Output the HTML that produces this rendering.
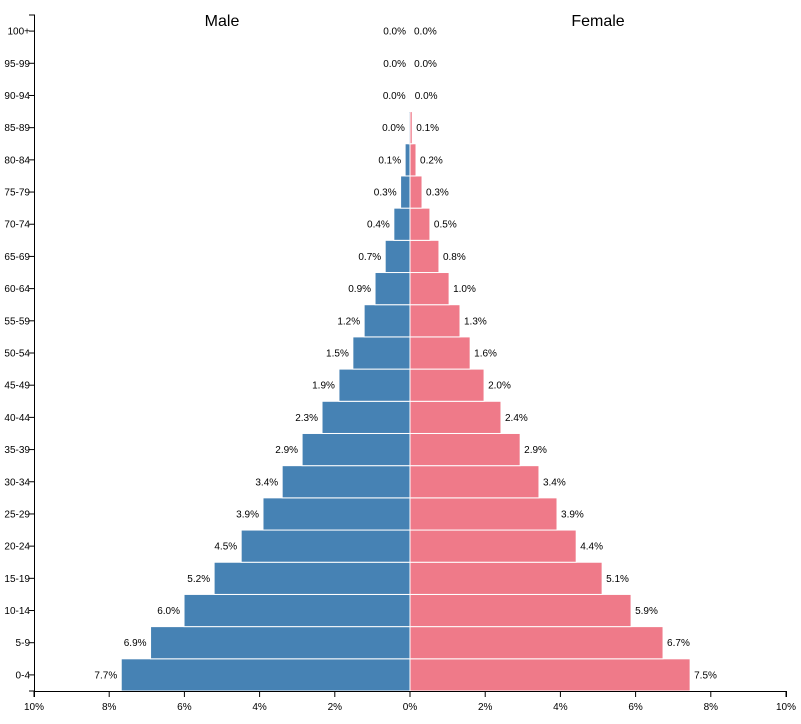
<!DOCTYPE html>
<html><head><meta charset="utf-8"><style>
body{margin:0;background:#fff;font-family:"Liberation Sans",Arial,sans-serif}
svg text{font-family:"Liberation Sans",Arial,sans-serif}
</style></head><body>
<svg id="chart" width="801" height="719" xmlns="http://www.w3.org/2000/svg"></svg>
<script>
const ages=["0-4","5-9","10-14","15-19","20-24","25-29","30-34","35-39","40-44","45-49","50-54","55-59","60-64","65-69","70-74","75-79","80-84","85-89","90-94","95-99","100+"];
const male=[7.68,6.9,6.01,5.21,4.49,3.91,3.4,2.87,2.34,1.89,1.52,1.22,0.93,0.66,0.43,0.25,0.13,0.03,0.01,0,0];
const female=[7.45,6.73,5.88,5.11,4.42,3.91,3.43,2.93,2.42,1.97,1.6,1.33,1.04,0.77,0.53,0.32,0.16,0.06,0.02,0.004,0];
const xTicks=[10,8,6,4,2,0,2,4,6,8,10];
const svgEl=document.getElementById('chart');
const NS='http://www.w3.org/2000/svg';
const cx=410, pxPer=37.6, topY=15, bottomY=691;
const band=(bottomY-topY)/ages.length;
function yOf(i){return bottomY-(i+1)*band;}
function xM(v){return cx-v*pxPer;}
function xF(v){return cx+v*pxPer;}
function mk(tag,at,txt){const e=document.createElementNS(NS,tag);for(const k in at)e.setAttribute(k,at[k]);if(txt!==undefined)e.textContent=txt;svgEl.appendChild(e);return e;}
ages.forEach((a,i)=>{
  const y=yOf(i);
  let r=mk('rect',{x:xM(male[i]),y:y,width:male[i]*pxPer,height:band,fill:'#4682b4',stroke:'#fff','stroke-width':1});
  
  
  r=mk('rect',{x:cx,y:y,width:female[i]*pxPer,height:band,fill:'#ef7a89',stroke:'#fff','stroke-width':1});
  
  
  let t=mk('text',{x:xM(male[i])-4,y:y+band/2+3.5,'font-size':10,'text-anchor':'end',fill:'#000'},male[i].toFixed(1)+'%');
  
  
  t=mk('text',{x:xF(female[i])+4,y:y+band/2+3.5,'font-size':10,fill:'#000'},female[i].toFixed(1)+'%');
  
  
  t=mk('text',{x:30,y:y+band/2+3.5,'font-size':10,'text-anchor':'end',fill:'#000'},a);
  
  
  mk('line',{x1:29,x2:35,y1:y+band/2,y2:y+band/2,stroke:'#000'});
});
let ax=mk('path',{d:'M29,'+topY+'H34.5V'+bottomY+'H29',fill:'none',stroke:'#000'});


let bx=mk('path',{d:'M34.5,697V'+(bottomY+0.5)+'H786.5V697',fill:'none',stroke:'#000'});


xTicks.forEach((v,i)=>{
  const x=i<5?xM(v):(i===5?cx:xF(v));
  mk('line',{x1:x,x2:x,y1:bottomY,y2:697,stroke:'#000'});
  const t=mk('text',{x:x,y:710,'font-size':10,'text-anchor':'middle',fill:'#000'},v+'%');
  
  
});
let m=mk('text',{x:222,y:26,'font-size':16,'text-anchor':'middle',fill:'#000'},'Male');


let f=mk('text',{x:598,y:26,'font-size':16,'text-anchor':'middle',fill:'#000'},'Female');


</script>
</body></html>
